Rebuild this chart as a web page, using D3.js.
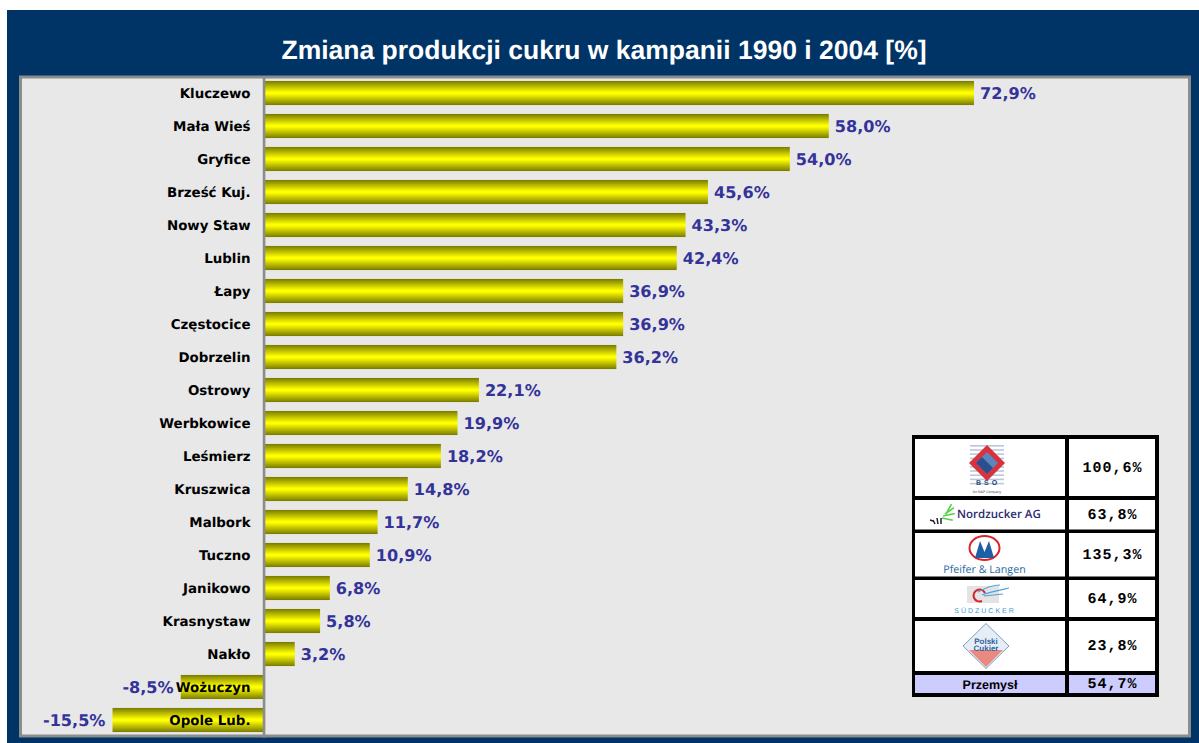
<!DOCTYPE html>
<html><head><meta charset="utf-8">
<script src="https://cdn.jsdelivr.net/npm/d3@7/dist/d3.min.js"></script>
<style>html,body{margin:0;padding:0;background:#fff;overflow:hidden}svg{display:block}text{text-rendering:geometricPrecision}</style>
</head><body><svg id="c" width="1199" height="743"></svg>
<script>
const categories=["Kluczewo","Mała Wieś","Gryfice","Brześć Kuj.","Nowy Staw","Lublin","Łapy","Częstocice","Dobrzelin","Ostrowy","Werbkowice","Leśmierz","Kruszwica","Malbork","Tuczno","Janikowo","Krasnystaw","Nakło","Wożuczyn","Opole Lub."];
const values=[72.9,58.0,54.0,45.6,43.3,42.4,36.9,36.9,36.2,22.1,19.9,18.2,14.8,11.7,10.9,6.8,5.8,3.2,-8.5,-15.5];
const companies=["BSO","Nordzucker AG","Pfeifer & Langen","Südzucker","Polski Cukier"];
const companyValues=[100.6,63.8,135.3,64.9,23.8];
const industryLabel="Przemysł";
const industryValue=54.7;
const title="Zmiana produkcji cukru w kampanii 1990 i 2004 [%]";

const fmt=v=>d3.format(".1f")(v).replace(".",",").replace("−","-")+"%";
const svg=d3.select("#c");
const sans='"Liberation Sans",Arial,sans-serif', verd='"DejaVu Sans",Verdana,sans-serif', mono='"Liberation Mono","Courier New",monospace';
const defs=svg.append("defs");
const g=defs.append("linearGradient").attr("id","bar").attr("x1",0).attr("x2",0).attr("y1",0).attr("y2",1);
[[0,"#7a7a00"],[.47,"#ffff00"],[.53,"#ffff00"],[1,"#7a7a00"]].forEach(s=>g.append("stop").attr("offset",s[0]).attr("stop-color",s[1]));

// frame
svg.append("rect").attr("x",7).attr("y",10).attr("width",1192).attr("height",733).attr("fill","#003366");
svg.append("text").attr("x",604).attr("y",58.5).attr("text-anchor","middle").attr("fill","#fff")
  .attr("font-family",sans).attr("font-weight","bold").attr("font-size",26.5).text(title);
svg.append("rect").attr("x",20.5).attr("y",77).attr("width",1169).attr("height",659).attr("fill","#e8e8e8").attr("stroke","#8c8c8c").attr("stroke-width",3);

// scales
const x=d3.scaleLinear().domain([-15.5,72.9]).range([112.5,974]);
const y=d3.scaleBand().domain(categories).range([76.5,736.5]).paddingInner(.27).paddingOuter(.135);

svg.append("g").selectAll("rect").data(values).join("rect")
  .attr("x",d=>Math.min(x(d),x(0))).attr("width",d=>Math.abs(x(d)-x(0)))
  .attr("y",(d,i)=>y(categories[i])).attr("height",y.bandwidth()).attr("fill","url(#bar)");

const axis=svg.append("g").attr("transform",`translate(${x(0)},0.4)`)
  .call(d3.axisLeft(y).tickSize(0).tickPadding(13));
axis.select(".domain").attr("stroke","#8c8c8c").attr("stroke-width",2.6);
axis.selectAll("text").attr("font-family",verd).attr("font-weight","bold").attr("font-size",13.4).attr("fill","#000");

svg.append("g").selectAll("text").data(values).join("text")
  .attr("x",d=>d<0?x(d)-7:x(d)+6).attr("text-anchor",d=>d<0?"end":"start")
  .attr("y",(d,i)=>y(categories[i])+y.bandwidth()/2+.4).attr("dy",".35em")
  .attr("font-family",verd).attr("font-weight","bold").attr("font-size",16.1).attr("fill","#333399")
  .text(d=>fmt(d));

// inset table
const rowsY=[[439,496],[500,529.5],[533,576.5],[580,617],[621,671]];
const t=svg.append("g");
t.append("rect").attr("x",912).attr("y",435).attr("width",247).attr("height",262).attr("fill","#000");
const col1=[915,1065],col2=[1069,1155];
rowsY.forEach((r,i)=>{
  t.append("rect").attr("x",col1[0]).attr("y",r[0]).attr("width",col1[1]-col1[0]).attr("height",r[1]-r[0]).attr("fill","#fff");
  t.append("rect").attr("x",col2[0]).attr("y",r[0]).attr("width",col2[1]-col2[0]).attr("height",r[1]-r[0]).attr("fill","#fff");
  t.append("text").attr("x",(col2[0]+col2[1])/2+.5).attr("y",(r[0]+r[1])/2-1).attr("dy",".35em").attr("text-anchor","middle")
   .attr("font-family",mono).attr("font-weight","bold").attr("font-size",15).attr("letter-spacing",1).text(fmt(companyValues[i]));
});
t.append("rect").attr("x",col1[0]).attr("y",675).attr("width",col1[1]-col1[0]).attr("height",18).attr("fill","#ccccff");
t.append("rect").attr("x",col2[0]).attr("y",675).attr("width",col2[1]-col2[0]).attr("height",18).attr("fill","#ccccff");
t.append("text").attr("x",990).attr("y",684).attr("dy",".36em").attr("text-anchor","middle").attr("font-family",sans).attr("font-weight","bold").attr("font-size",12.5).text(industryLabel);
t.append("text").attr("x",1112.5).attr("y",683).attr("dy",".35em").attr("text-anchor","middle").attr("font-family",mono).attr("font-weight","bold").attr("font-size",15).attr("letter-spacing",1).text(fmt(industryValue));

// logos
const L=t.append("g");
// BSO
for(let k=0;k<10;k++)L.append("rect").attr("x",970).attr("y",445+k*4.2).attr("width",34).attr("height",1.6).attr("fill","#b9c6dc");
L.append("path").attr("d","M987 445L1005 463L987 481L969 463Z").attr("fill","#d8323c");
L.append("path").attr("d","M987 452L998 463L987 474L976 463Z").attr("fill","#5c86bd");
L.append("path").attr("d","M982 457L993 468L987 474L976 463Z").attr("fill","#2a4f8f");
L.append("text").attr("x",988).attr("y",484.5).attr("text-anchor","middle").attr("font-family",sans).attr("font-weight","bold").attr("font-size",7).attr("letter-spacing",3).attr("fill","#1f4f7d").text("BSO");
L.append("text").attr("x",987).attr("y",493).attr("text-anchor","middle").attr("font-family",sans).attr("font-size",3.5).attr("fill","#445").text("An N&P Company");
// Nordzucker
[[-60,9,947,512],[-35,11,945,514],[-12,12,943,516],[12,11,942,518]].forEach(s=>{
  L.append("line").attr("x1",s[2]).attr("y1",s[3]).attr("x2",s[2]+s[1]*Math.cos(s[0]*Math.PI/180)).attr("y2",s[3]+s[1]*Math.sin(s[0]*Math.PI/180)).attr("stroke","#55d04a").attr("stroke-width",1.6);
});
[[930,520,933,521],[933,520,935,524],[937,518,938,524],[941,518,941,524]].forEach(a=>L.append("line").attr("x1",a[0]).attr("y1",a[1]).attr("x2",a[2]).attr("y2",a[3]).attr("stroke","#223").attr("stroke-width",1.5));
L.append("text").attr("x",957).attr("y",518).attr("font-family",'"Open Sans",sans-serif').attr("font-weight",600).attr("font-size",11.5).attr("fill","#2b2b70").text(companies[1]);
// Pfeifer & Langen
L.append("ellipse").attr("cx",984.5).attr("cy",548).attr("rx",15).attr("ry",12).attr("fill","none").attr("stroke","#d8232a").attr("stroke-width",2);
L.append("path").attr("d","M975 558L980 541L984.5 552L989 541L994 558Z").attr("fill","#1f5fa5");
L.append("text").attr("x",984.5).attr("y",573).attr("text-anchor","middle").attr("font-family",'"Open Sans",sans-serif').attr("font-size",10.7).attr("fill","#2a6aa0").text(companies[2]);
// Südzucker
L.append("rect").attr("x",967).attr("y",586).attr("width",32).attr("height",17).attr("fill","#e3e3e3");
L.append("path").attr("d","M985 593A6 6 0 1 0 982 601").attr("fill","none").attr("stroke","#d8232a").attr("stroke-width",2);
L.append("path").attr("d","M978 592C985 588 993 585 1000 585M982 595C990 592 1000 590 1009 588M984 596L1003 594").attr("fill","none").attr("stroke","#4fa3d9").attr("stroke-width",1.2);
L.append("text").attr("x",985).attr("y",613).attr("text-anchor","middle").attr("font-family",sans).attr("font-size",7).attr("letter-spacing",2).attr("fill","#3f9ad0").text("SÜDZUCKER");
// Polski Cukier
L.append("path").attr("d","M986 623.5L1009 646L986 668.5L963 646Z").attr("fill","#e6edf5").attr("stroke","#7f9fc4").attr("stroke-width",1);
L.append("path").attr("d","M969 650H1003L986 667Z").attr("fill","#e88a80");
L.append("text").attr("x",986).attr("y",644).attr("text-anchor","middle").attr("font-family",sans).attr("font-weight","bold").attr("font-size",8).attr("fill","#2f5f9f").text("Polski");
L.append("text").attr("x",986).attr("y",651).attr("text-anchor","middle").attr("font-family",sans).attr("font-weight","bold").attr("font-size",8).attr("fill","#2f5f9f").text("Cukier");
</script></body></html>
